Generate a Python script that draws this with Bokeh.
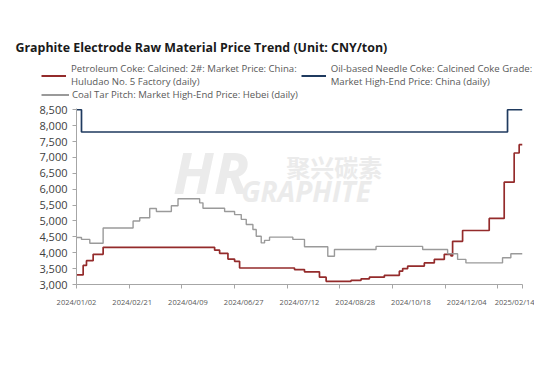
from bokeh.plotting import figure
from bokeh.layouts import column
from bokeh.models import (FixedTicker, NumeralTickFormatter, Legend, LegendItem,
                          Label, Range1d)
from bokeh.embed import file_html
from bokeh.resources import INLINE

# ---------------- data ----------------
# x = position index along the date axis (0 = 2024/01/02 ... 268 = 2025/02/14)
x_labels = ["2024/01/02", "2024/02/21", "2024/04/09", "2024/06/27", "2024/07/12",
            "2024/08/28", "2024/10/18", "2024/12/04", "2025/02/14"]
label_pos = [0, 33.5, 67, 100.5, 134, 167.5, 201, 234.5, 268]
tick_pos = [0, 31.65, 63.3, 94.95, 126.6, 158.25, 189.9, 221.55, 253.2, 268]
y_ticks = [3000, 3500, 4000, 4500, 5000, 5500, 6000, 6500, 7000, 7500, 8000, 8500]

# Oil-based needle coke (step breakpoints)
needle_x = [0, 3, 259, 268]
needle_y = [8500, 7800, 8500, 8500]

# Petroleum coke calcined 2# Huludao (step breakpoints)
petcoke_x = [0, 4, 6, 10, 16, 83, 86, 91, 95, 98, 131, 137, 146, 150, 165, 171,
             176, 185, 194, 196, 199, 209, 215, 221, 225, 226, 232, 248, 257, 263, 266, 268]
petcoke_y = [3300, 3600, 3750, 3950, 4170, 4080, 3980, 3800, 3730, 3520, 3470, 3400,
             3230, 3100, 3130, 3180, 3230, 3290, 3420, 3500, 3580, 3680, 3790, 3950,
             3900, 4360, 4700, 5080, 6220, 7140, 7400, 7400]

# Coal tar pitch Hebei (step breakpoints)
pitch_x = [0, 3, 8, 16, 34, 38, 44, 48, 57, 61, 74, 76, 89, 95, 99, 102, 106, 108,
           111, 113, 116, 130, 137, 151, 155, 180, 208, 223, 229, 234, 256, 261, 268]
pitch_y = [4480, 4420, 4300, 4780, 5000, 5100, 5390, 5300, 5480, 5700, 5570, 5400,
           5300, 5200, 5050, 4890, 4730, 4520, 4310, 4390, 4490, 4420, 4190, 3890,
           4100, 4200, 4100, 3970, 3790, 3680, 3840, 3970, 3970]

title_text = "Graphite Electrode Raw Material Price Trend (Unit: CNY/ton)"
name_petcoke = "Petroleum Coke: Calcined: 2#: Market Price: China:\nHuludao No. 5 Factory (daily)"
name_needle = "Oil-based Needle Coke: Calcined Coke Grade:\nMarket High-End Price: China (daily)"
name_pitch = "Coal Tar Pitch: Market High-End Price: Hebei (daily)"

FONT = "Open Sans"
C_PET, C_NEEDLE, C_PITCH = "#942b2b", "#1f3a5f", "#9a9a9a"

# ---------------- header figure (title + legend) ----------------
HEAD_H = 101
ph = figure(width=534, height=HEAD_H, output_backend="svg", toolbar_location=None,
            x_range=Range1d(0, 534), y_range=Range1d(HEAD_H, 0),
            min_border=0, outline_line_color=None, x_axis_type=None, y_axis_type=None)
ph.xgrid.visible = False
ph.ygrid.visible = False
ph.add_layout(Label(x=15, y=47, text=title_text, text_font=FONT, text_font_style="bold",
                    text_font_size="12.4px", text_color="#1a1a1a",
                    text_baseline="middle"))
# legend-only renderers (their points lie outside the visible header range)
lg_pet = ph.line(x=[-50, -40], y=[-50, -50], line_color=C_PET, line_width=2)
lg_needle = ph.line(x=[-50, -40], y=[-50, -50], line_color=C_NEEDLE, line_width=2)
lg_pitch = ph.line(x=[-50, -40], y=[-50, -50], line_color=C_PITCH, line_width=2)

leg_common = dict(orientation="horizontal", margin=0, padding=0,
                  label_text_font=FONT, label_text_font_size="9.6px",
                  label_text_color="#595959", border_line_color=None,
                  background_fill_alpha=0, label_text_line_height=1.0,
                  glyph_height=11, label_height=11)
leg1 = Legend(items=[LegendItem(label=name_petcoke, renderers=[lg_pet]),
                     LegendItem(label=name_needle, renderers=[lg_needle])],
              location=(41, 13), spacing=4, glyph_width=25, label_standoff=5,
              **leg_common)
leg2 = Legend(items=[LegendItem(label=name_pitch, renderers=[lg_pitch])],
              location=(41, 0), glyph_width=28, label_standoff=3, **leg_common)
ph.add_layout(leg1)
ph.add_layout(leg2)

# ---------------- main chart ----------------
p = figure(width=534, height=354 - HEAD_H, output_backend="svg", toolbar_location=None,
           x_range=Range1d(0, 268), y_range=Range1d(3000, 8540),
           min_border_left=76, min_border_right=12, min_border_top=7,
           min_border_bottom=70, background_fill_color="white",
           border_fill_color="white", outline_line_color=None)
p.xgrid.visible = False
p.ygrid.visible = False

for fig in (ph, p):
    try:
        fig.frame_align = False
    except Exception:
        pass

# watermark
wm_color = "#ebebeb"
p.add_layout(Label(x=58, y=5300, text="HR", text_font=FONT, text_font_style="bold italic",
                   text_font_size="58px", text_color=wm_color, level="underlay"))
p.add_layout(Label(x=126, y=6170, text="聚兴碳素", text_font="Noto Sans CJK SC",
                   text_font_style="bold", text_font_size="24px", text_color=wm_color,
                   level="underlay"))
p.add_layout(Label(x=99, y=5340, text="GRAPHITE", text_font=FONT,
                   text_font_style="bold italic", text_font_size="28px",
                   text_color=wm_color, level="underlay"))

p.step(petcoke_x, petcoke_y, mode="after", line_color=C_PET, line_width=1.7)
p.step(needle_x, needle_y, mode="after", line_color=C_NEEDLE, line_width=1.7)
p.step(pitch_x, pitch_y, mode="after", line_color=C_PITCH, line_width=1.4)

xa = p.xaxis[0]
xa.ticker = FixedTicker(ticks=label_pos, minor_ticks=tick_pos)
xa.major_label_overrides = {lp: lab for lp, lab in zip(label_pos, x_labels)}
xa.major_tick_line_color = None
xa.minor_tick_line_color = "#a6a6a6"
xa.minor_tick_in = 0
xa.minor_tick_out = 4
xa.axis_line_color = "#a6a6a6"
xa.major_label_text_font = FONT
xa.major_label_text_font_size = "7.5px"
xa.major_label_text_color = "#595959"
xa.major_label_standoff = 6

ya = p.yaxis[0]
ya.ticker = FixedTicker(ticks=y_ticks)
ya.formatter = NumeralTickFormatter(format="0,0")
ya.major_tick_in = 0
ya.major_tick_out = 4
ya.minor_tick_line_color = None
ya.axis_line_color = "#a6a6a6"
ya.major_tick_line_color = "#a6a6a6"
ya.major_label_text_font = FONT
ya.major_label_text_font_size = "11px"
ya.major_label_text_color = "#404040"
ya.major_label_standoff = 5

layout = column(ph, p, spacing=0)
open("out.html", "w").write(file_html(layout, INLINE))
